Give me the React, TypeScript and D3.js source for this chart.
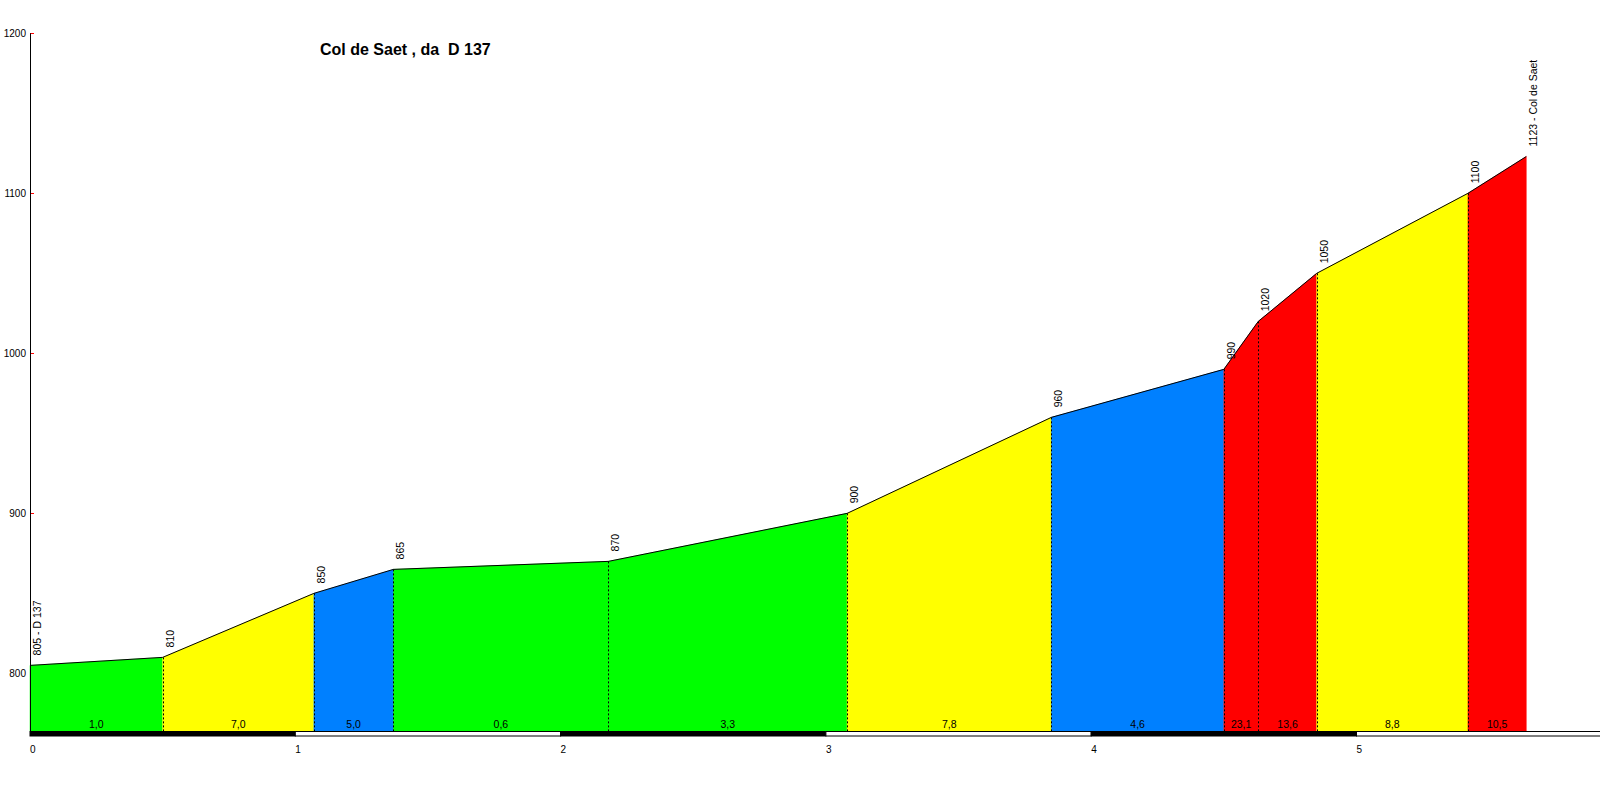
import React from "react";
import * as d3 from "d3";

const title = "Col de Saet , da  D 137";
const distancesKm = [0, 0.5, 1.07, 1.37, 2.18, 3.08, 3.85, 4.5, 4.63, 4.85, 5.42, 5.64];
const elevations = [805, 810, 850, 865, 870, 900, 960, 990, 1020, 1050, 1100, 1123];
const pointLabels = ["805 - D 137", "810", "850", "865", "870", "900", "960", "990", "1020", "1050", "1100", "1123 - Col de Saet"];
const gradeLabels = ["1,0", "7,0", "5,0", "0,6", "3,3", "7,8", "4,6", "23,1", "13,6", "8,8", "10,5"];
const yTicks = [800, 900, 1000, 1100, 1200];
const xTicks = [0, 1, 2, 3, 4, 5];

const W = 1600;
const H = 800;

export default function App() {
  const x = d3.scaleLinear().domain([0, 6]).range([30, 30 + 6 * 265.3]);
  const y = d3.scaleLinear().domain([764, 1200]).range([731, 33.3]);
  const color = d3
    .scaleThreshold<number, string>()
    .domain([4, 6.5, 10])
    .range(["#00ff00", "#0080ff", "#ffff00", "#ff0000"]);
  const font = "Arial, 'Liberation Sans', sans-serif";

  const area = d3
    .area<number>()
    .x((d) => x(distancesKm[d]))
    .y0(y(764))
    .y1((d) => y(elevations[d]));
  const line = d3
    .line<number>()
    .x((d) => x(distancesKm[d]))
    .y((d) => y(elevations[d]));

  const segs = gradeLabels.map((g, i) => ({ g, i, grade: parseFloat(g.replace(",", ".")) }));
  const base = y(764);

  return (
    <svg width={W} height={H} style={{ position: "absolute", left: 0, top: 0, background: "#fff" }}>
      <rect x={0} y={0} width={W} height={H} fill="#fff" />
      {yTicks.map((t) => (
        <line key={"tk" + t} x1={30} x2={34} y1={Math.round(y(t)) + 0.5} y2={Math.round(y(t)) + 0.5} stroke="#ff0000" strokeWidth={1} />
      ))}
      {segs.map((s) => (
        <path key={"a" + s.i} d={area([s.i, s.i + 1]) || ""} fill={color(s.grade)} stroke={color(s.grade)} strokeWidth={0.5} />
      ))}
      {distancesKm.slice(1, -1).map((d, i) => (
        <line
          key={"v" + i}
          x1={Math.round(x(d)) + 0.5}
          x2={Math.round(x(d)) + 0.5}
          y1={y(elevations[i + 1])}
          y2={base}
          stroke="#000"
          strokeWidth={1}
          strokeDasharray="2,2"
        />
      ))}
      <path d={line(d3.range(distancesKm.length)) || ""} fill="none" stroke="#000" strokeWidth={1} />
      {segs.map((s) => (
        <text
          key={"g" + s.i}
          x={(x(distancesKm[s.i]) + x(distancesKm[s.i + 1])) / 2}
          y={728}
          fontFamily={font}
          fontSize={10.5}
          textAnchor="middle"
          fill="#000"
        >
          {s.g}
        </text>
      ))}
      {pointLabels.map((lab, i) => (
        <text
          key={"p" + i}
          transform={`translate(${x(distancesKm[i]) + 11},${y(elevations[i]) - 10}) rotate(-90)`}
          fontFamily={font}
          fontSize={10.5}
          fill="#000"
        >
          {lab}
        </text>
      ))}
      {/* scale bar */}
      {xTicks.map((t) => (
        <rect
          key={"s" + t}
          x={x(t)}
          y={731.5}
          width={x(t + 1) - x(t)}
          height={4.5}
          fill={t % 2 === 0 ? "#000" : "#fff"}
          stroke="#000"
          strokeWidth={1}
        />
      ))}
      {xTicks.map((t) => (
        <text key={"xt" + t} x={x(t)} y={753} fontFamily={font} fontSize={10} fill="#000">
          {t}
        </text>
      ))}
      {/* y axis */}
      <line x1={30.5} x2={30.5} y1={y(1200)} y2={base} stroke="#000" strokeWidth={1} />
      {yTicks.map((t) => (
        <text key={"yl" + t} x={26} y={y(t)} dy="0.35em" textAnchor="end" fontFamily={font} fontSize={10} fill="#000">
          {t}
        </text>
      ))}
      <text x={320} y={55} fontFamily={font} fontSize={16} fontWeight="bold" fill="#000" style={{ whiteSpace: "pre" }}>
        {title}
      </text>
    </svg>
  );
}
